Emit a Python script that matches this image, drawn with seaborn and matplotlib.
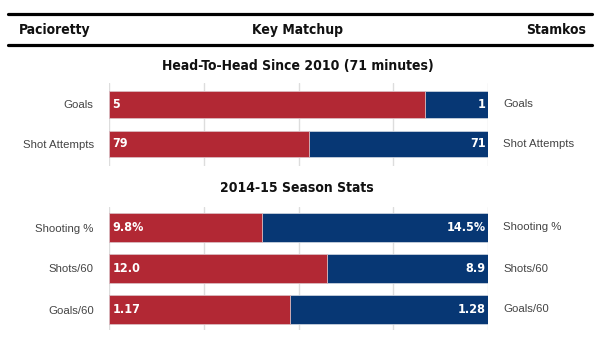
import matplotlib
matplotlib.use("Agg")
import matplotlib.pyplot as plt
import seaborn as sns
import pandas as pd
from matplotlib.lines import Line2D
from matplotlib import font_manager

sns.set_theme(style="white")
names = {f.name for f in font_manager.fontManager.ttflist}
HAS_NARROW = "Liberation Sans Narrow" in names
plt.rcParams['font.family'] = ['Liberation Sans', 'DejaVu Sans']

if HAS_NARROW:
    COND = dict(family=["Liberation Sans Narrow", "DejaVu Sans"], fontweight="bold")
    HSIZE, VSIZE = 11.5, 10
else:
    COND = dict(family=["DejaVu Sans"], fontstretch="condensed", fontweight="bold")
    HSIZE, VSIZE = 10, 9

RED = "#B22834"
BLUE = "#073774"

h2h_cats = ["Goals", "Shot Attempts"]
h2h_pac = [5, 79]
h2h_stam = [1, 71]
h2h_pac_lbl = ["5", "79"]
h2h_stam_lbl = ["1", "71"]

season_cats = ["Shooting %", "Shots/60", "Goals/60"]
season_pac = [9.8, 12.0, 1.17]
season_stam = [14.5, 8.9, 1.28]
season_pac_lbl = ["9.8%", "12.0", "1.17"]
season_stam_lbl = ["14.5%", "8.9", "1.28"]

W, H = 600, 347
fig = plt.figure(figsize=(6, 3.47), dpi=100)

def fx(px):
    return px / W

def fy(py):
    return 1 - py / H

# header
for y in (13.5, 44.5):
    fig.add_artist(Line2D([fx(8), fx(592)], [fy(y), fy(y)], color="black", lw=2.3))
hdr = dict(fontsize=HSIZE, va="center", color="#111111", **COND)
fig.text(fx(19), fy(30), "Pacioretty", ha="left", **hdr)
fig.text(fx(298), fy(30), "Key Matchup", ha="center", **hdr)
fig.text(fx(586), fy(30), "Stamkos", ha="right", **hdr)
fig.text(fx(298), fy(66), "Head-To-Head Since 2010 (71 minutes)", ha="center", **hdr)
fig.text(fx(297), fy(188), "2014-15 Season Stats", ha="center", **hdr)

def panel(top, bottom, cats, pac, stam, pl, sl, width, ylim):
    ax = fig.add_axes([fx(109), fy(bottom), fx(488) - fx(109), (bottom - top) / H])
    df = pd.DataFrame({"cat": cats, "pac": pac, "stam": stam})
    df["total"] = 100.0
    df["share"] = df["pac"] / (df["pac"] + df["stam"]) * 100
    sns.barplot(data=df, x="total", y="cat", orient="h", color=BLUE, saturation=1,
                width=width, ax=ax, edgecolor="#c8d0dc", linewidth=0.6)
    sns.barplot(data=df, x="share", y="cat", orient="h", color=RED, saturation=1,
                width=width, ax=ax, edgecolor="#e0c0c4", linewidth=0.6)
    ax.set_xlim(0, 100)
    ax.set_ylim(*ylim)
    ax.set_xticks([0, 25, 50, 75, 100])
    ax.xaxis.grid(True, color="#dddddd", lw=1)
    ax.set_axisbelow(True)
    for s in ax.spines.values():
        s.set_visible(False)
    ax.set_xlabel("")
    ax.set_ylabel("")
    ax.tick_params(axis="x", length=0, labelbottom=False)
    ax.tick_params(axis="y", length=0, pad=11)
    for lab in ax.get_yticklabels():
        lab.set_fontsize(8.2)
        lab.set_color("#444444")
    for i, c in enumerate(cats):
        ax.text(0.9, i, pl[i], color="white", fontsize=VSIZE,
                ha="left", va="center", **COND)
        ax.text(99.4, i, sl[i], color="white", fontsize=VSIZE,
                ha="right", va="center", **COND)
        ax.text(104, i, c, color="#444444", fontsize=8.2, ha="left", va="center",
                clip_on=False)
    return ax

panel(83, 166, h2h_cats, h2h_pac, h2h_stam, h2h_pac_lbl, h2h_stam_lbl, 0.68, (1.557, -0.544))
panel(207, 330, season_cats, season_pac, season_stam, season_pac_lbl, season_stam_lbl, 0.71, (2.5, -0.5))

fig.savefig("out.png", dpi=100, facecolor="white")
